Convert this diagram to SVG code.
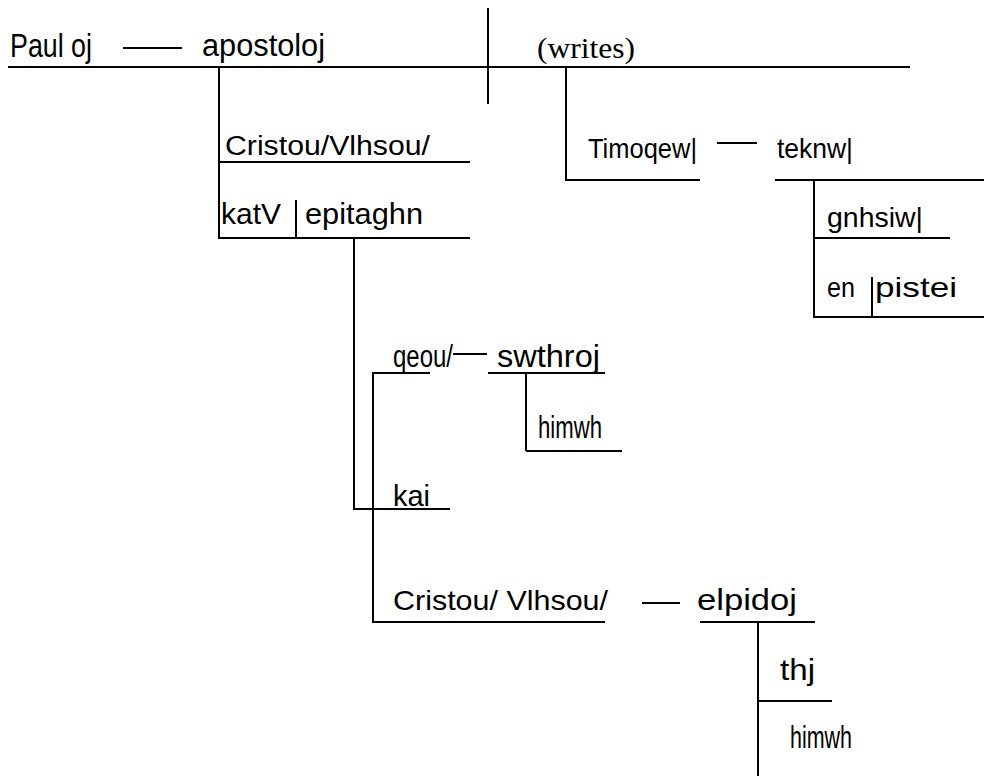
<svg xmlns="http://www.w3.org/2000/svg" width="984" height="776" viewBox="0 0 984 776">
<style>
.l{stroke:#000;stroke-width:2;fill:none}
.g{font-family:"Liberation Sans",Arial,sans-serif;fill:#000}
.s{font-family:"Liberation Serif","Times New Roman",serif;fill:#000}
</style>
<rect width="984" height="776" fill="#fff"/>
<g id="connectors">
<line class="l" x1="8" y1="67" x2="910" y2="67"/>
<line class="l" x1="488" y1="8" x2="488" y2="104"/>
<line class="l" x1="123" y1="48" x2="182" y2="48"/>
<line class="l" x1="219" y1="67" x2="219" y2="239"/>
<line class="l" x1="219" y1="162" x2="470" y2="162"/>
<line class="l" x1="219" y1="238" x2="470" y2="238"/>
<line class="l" x1="296" y1="200" x2="296" y2="238"/>
<line class="l" x1="354" y1="238" x2="354" y2="509"/>
<line class="l" x1="353" y1="509" x2="450" y2="509"/>
<line class="l" x1="373" y1="372" x2="373" y2="623"/>
<line class="l" x1="372" y1="373" x2="430" y2="373"/>
<line class="l" x1="453" y1="354" x2="487" y2="354"/>
<line class="l" x1="488" y1="373" x2="605" y2="373"/>
<line class="l" x1="526" y1="373" x2="526" y2="451"/>
<line class="l" x1="526" y1="451" x2="622" y2="451"/>
<line class="l" x1="372" y1="622" x2="605" y2="622"/>
<line class="l" x1="642" y1="603" x2="680" y2="603"/>
<line class="l" x1="700" y1="622" x2="815" y2="622"/>
<line class="l" x1="758" y1="622" x2="758" y2="776"/>
<line class="l" x1="758" y1="701" x2="832" y2="701"/>
<line class="l" x1="566" y1="67" x2="566" y2="181"/>
<line class="l" x1="566" y1="180" x2="700" y2="180"/>
<line class="l" x1="717" y1="143" x2="757" y2="143"/>
<line class="l" x1="775" y1="180" x2="984" y2="180"/>
<line class="l" x1="814" y1="180" x2="814" y2="318"/>
<line class="l" x1="814" y1="238" x2="950" y2="238"/>
<line class="l" x1="814" y1="317" x2="984" y2="317"/>
<line class="l" x1="872" y1="277" x2="872" y2="317"/>
</g>
<g id="n-paulos"><text class="g" x="10" y="57" font-size="34" textLength="82" lengthAdjust="spacingAndGlyphs">Paul oj</text></g>
<g id="n-apostolos"><text class="g" x="202" y="56" font-size="31" textLength="123" lengthAdjust="spacingAndGlyphs">apostoloj</text></g>
<g id="n-writes"><text class="s" x="537" y="58" font-size="30" textLength="98" lengthAdjust="spacingAndGlyphs">(writes)</text></g>
<g id="n-christou1"><text class="g" x="225" y="155" font-size="27" textLength="205" lengthAdjust="spacingAndGlyphs">Cristou/Vlhsou/</text></g>
<g id="n-kata"><text class="g" x="221" y="224" font-size="29" textLength="60" lengthAdjust="spacingAndGlyphs">katV</text></g>
<g id="n-epitagen"><text class="g" x="305" y="224" font-size="29" textLength="118" lengthAdjust="spacingAndGlyphs">epitaghn</text></g>
<g id="n-timotheo"><text class="g" x="588" y="158" font-size="27" textLength="109" lengthAdjust="spacingAndGlyphs">Timoqew|</text></g>
<g id="n-tekno"><text class="g" x="777" y="158" font-size="28" textLength="76" lengthAdjust="spacingAndGlyphs">teknw|</text></g>
<g id="n-gnesio"><text class="g" x="827" y="227" font-size="28" textLength="96" lengthAdjust="spacingAndGlyphs">gnhsiw|</text></g>
<g id="n-en"><text class="g" x="827" y="297" font-size="28" textLength="28" lengthAdjust="spacingAndGlyphs">en</text></g>
<g id="n-pistei"><text class="g" x="875" y="297" font-size="28" textLength="82" lengthAdjust="spacingAndGlyphs">pistei</text></g>
<g id="n-theou"><text class="g" x="393" y="367" font-size="31" textLength="60" lengthAdjust="spacingAndGlyphs">qeou/</text></g>
<g id="n-soteros"><text class="g" x="497" y="367" font-size="31" textLength="103" lengthAdjust="spacingAndGlyphs">swthroj</text></g>
<g id="n-hemon1"><text class="g" x="538" y="438" font-size="31" textLength="64" lengthAdjust="spacingAndGlyphs">himwh</text></g>
<g id="n-kai"><text class="g" x="393" y="506" font-size="30" textLength="37" lengthAdjust="spacingAndGlyphs">kai</text></g>
<g id="n-christou2"><text class="g" x="393" y="610" font-size="28" textLength="215" lengthAdjust="spacingAndGlyphs">Cristou/ Vlhsou/</text></g>
<g id="n-elpidos"><text class="g" x="697" y="610" font-size="30" textLength="100" lengthAdjust="spacingAndGlyphs">elpidoj</text></g>
<g id="n-tes"><text class="g" x="780" y="680" font-size="30" textLength="35" lengthAdjust="spacingAndGlyphs">thj</text></g>
<g id="n-hemon2"><text class="g" x="790" y="748" font-size="31" textLength="62" lengthAdjust="spacingAndGlyphs">himwh</text></g>
</svg>
